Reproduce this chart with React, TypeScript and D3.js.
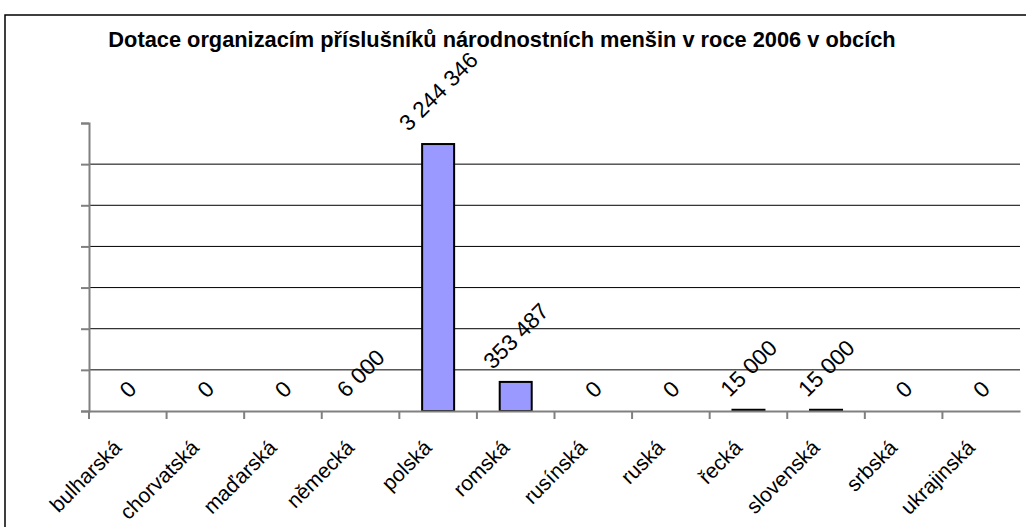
import { useEffect, useRef } from "react";
import * as d3 from "d3";

const categories = [
  "bulharská",
  "chorvatská",
  "maďarská",
  "německá",
  "polská",
  "romská",
  "rusínská",
  "ruská",
  "řecká",
  "slovenská",
  "srbská",
  "ukrajinská",
];
const values = [0, 0, 0, 6000, 3244346, 353487, 0, 0, 15000, 15000, 0, 0];
const valueLabels = ["0", "0", "0", "6 000", "3 244 346", "353 487", "0", "0", "15 000", "15 000", "0", "0"];
const yTicks = [0, 500000, 1000000, 1500000, 2000000, 2500000, 3000000, 3500000];
const title = "Dotace organizacím příslušníků národnostních menšin v roce 2006 v obcích";

export default function App() {
  const ref = useRef<SVGSVGElement>(null);

  useEffect(() => {
    const svg = d3.select(ref.current);
    svg.selectAll("*").remove();

    const font = "'Liberation Sans', Arial, sans-serif";
    const left = 89, right = 1020, top = 123, bottom = 411;

    // outer frame (right/bottom edges fall outside the picture)
    svg.append("rect")
      .attr("x", 5).attr("y", 15).attr("width", 1040).attr("height", 540)
      .attr("fill", "white").attr("stroke", "black").attr("stroke-width", 1.5);

    svg.append("text")
      .attr("x", 502).attr("y", 47)
      .attr("text-anchor", "middle")
      .attr("font-family", font).attr("font-weight", "bold").attr("font-size", 21.8)
      .text(title);

    const x = d3.scaleBand<string>().domain(categories).range([left, right]);
    const y = d3.scaleLinear().domain([0, 3500000]).range([bottom, top]);

    // gridlines
    svg.append("g")
      .selectAll("line")
      .data(yTicks.slice(1, -1))
      .join("line")
      .attr("x1", left).attr("x2", right)
      .attr("y1", d => y(d)).attr("y2", d => y(d))
      .attr("stroke", "black").attr("stroke-width", 1);

    // y axis, no labels
    const yAxis = svg.append("g")
      .attr("transform", `translate(${left},0)`)
      .call(d3.axisLeft(y).tickValues(yTicks).tickSize(8).tickFormat(() => ""));
    yAxis.select(".domain").attr("stroke", "#808080").attr("stroke-width", 2);
    yAxis.selectAll(".tick line").attr("stroke", "#808080").attr("stroke-width", 2);

    // bars (bars thinner than a pixel are not drawn, as in the original)
    const barW = 32;
    svg.append("g")
      .selectAll("rect")
      .data(categories.map((c, i) => ({ c, v: values[i] })).filter(d => y(0) - y(d.v) >= 1))
      .join("rect")
      .attr("x", d => x(d.c)! + x.bandwidth() / 2 - barW / 2)
      .attr("width", barW)
      .attr("y", d => y(d.v))
      .attr("height", d => y(0) - y(d.v))
      .attr("fill", "#9999FF").attr("stroke", "black").attr("stroke-width", 2);

    // x axis
    const xAxis = svg.append("g")
      .attr("transform", `translate(0,${bottom})`)
      .call(d3.axisBottom(x).tickSize(0).tickFormat(() => ""));
    xAxis.select(".domain").attr("stroke", "#808080").attr("stroke-width", 2);
    xAxis.selectAll(".tick").remove();
    xAxis.selectAll("line.sep")
      .data(categories)
      .join("line")
      .attr("class", "sep")
      .attr("x1", d => x(d)!).attr("x2", d => x(d)!)
      .attr("y1", 0).attr("y2", 8)
      .attr("stroke", "#808080").attr("stroke-width", 2);

    // category labels
    svg.append("g")
      .selectAll("text")
      .data(categories)
      .join("text")
      .attr("transform", d => `translate(${x(d)! + x.bandwidth() / 2 - 5},449) rotate(-45)`)
      .attr("text-anchor", "end")
      .attr("font-family", font).attr("font-size", 21)
      .text(d => d);

    // value labels, rotated and placed above the bar
    const fs = 22.5;
    const labels = svg.append("g")
      .selectAll("text")
      .data(categories.map((c, i) => ({ c, v: values[i], t: valueLabels[i] })))
      .join("text")
      .attr("text-anchor", "middle")
      .attr("dy", "0.36em")
      .attr("font-family", font).attr("font-size", fs)
      .text(d => d.t);
    labels.each(function (d) {
      const el = this as SVGTextElement;
      const L = el.getComputedTextLength() - 2;
      const h = 0.72 * fs;
      const half = ((L + h) * Math.SQRT1_2) / 2;
      const cx = x(d.c)! + x.bandwidth() / 2;
      const cy = y(d.v) - 12.5 - half;
      d3.select(el).attr("transform", `translate(${cx},${cy}) rotate(-45)`);
    });
  }, []);

  return (
    <svg
      ref={ref}
      width={1026}
      height={527}
      style={{ position: "absolute", left: 0, top: 0, background: "white" }}
    />
  );
}
